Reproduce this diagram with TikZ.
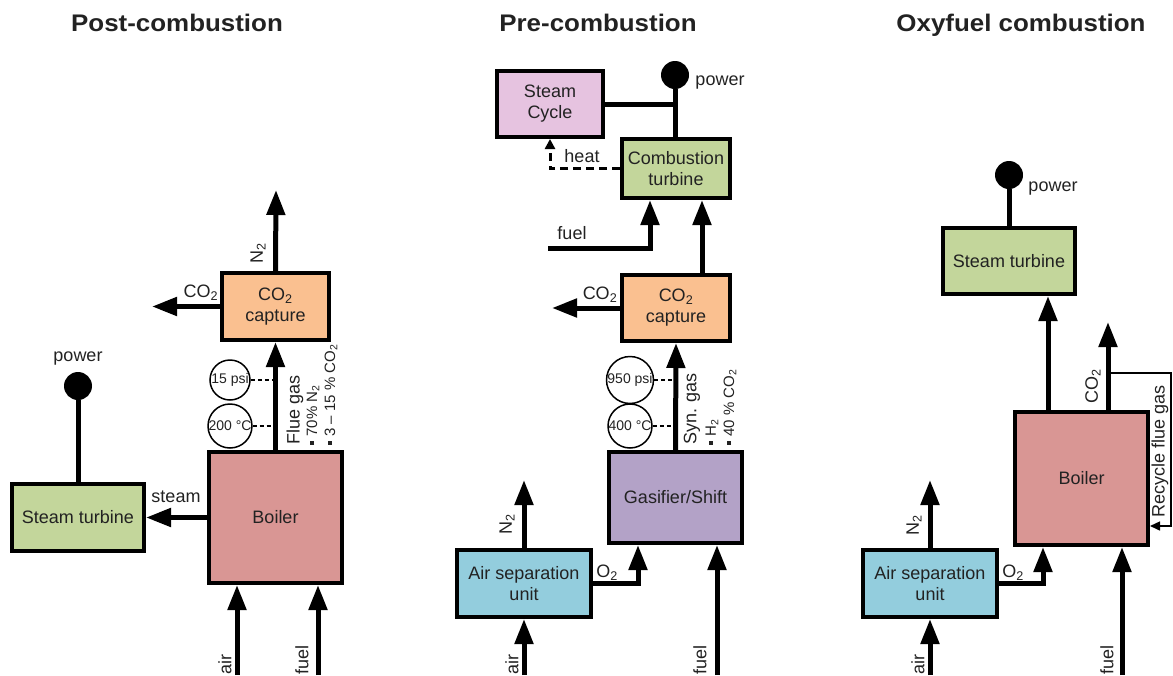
\documentclass[tikz,border=0pt]{standalone}
\usepackage{fontspec}
\setmainfont{Liberation Sans}
\usetikzlibrary{arrows.meta}
\definecolor{capc}{HTML}{FAC090}
\definecolor{boilc}{HTML}{D99694}
\definecolor{turbc}{HTML}{C3D69B}
\definecolor{cycc}{HTML}{E6C3E0}
\definecolor{gasc}{HTML}{B3A2C7}
\definecolor{asuc}{HTML}{93CDDD}
\definecolor{txt}{HTML}{222222}
\newcommand\bodyf{\fontsize{18}{21}\selectfont}
\newcommand\smallf{\fontsize{15}{17}\selectfont}
\newcommand\circf{\fontsize{14}{16}\selectfont}
\newcommand\titlef{\fontsize{24}{28}\selectfont\bfseries}
\newcommand\bul{\rule[0.2em]{4pt}{4pt}\ }
\newcommand\sub[1]{\textsubscript{#1}}
\begin{document}
\begin{tikzpicture}[x=1pt,y=-1pt,
  box/.style={draw=black, line width=4pt, text=txt, font=\bodyf, align=center, inner sep=0pt},
  flow/.style={line width=5pt, -{Triangle[length=25pt,width=18pt]}},
  link/.style={line width=5pt},
  lbl/.style={text=txt, font=\bodyf, inner sep=0pt},
  vlbl/.style={lbl, rotate=90, anchor=west},
  gauge/.style={draw, line width=1.5pt, circle, minimum size=40pt, inner sep=0pt, font=\circf, text=txt},
  probe/.style={line width=1.5pt, dash pattern=on 4pt off 3pt},
  dot/.style={circle, fill=black, minimum size=28pt, inner sep=0pt},
  ttl/.style={font=\titlef, text=txt, anchor=base, inner sep=0pt}]
\useasboundingbox (0,0) rectangle (1173,675);

% titles
\node[ttl] (t1) at (177,31) {\scalebox{1.08}[1]{Post-combustion}};
\node[ttl] (t2) at (598,31) {\scalebox{1.08}[1]{Pre-combustion}};
\node[ttl] (t3) at (1021,31) {\scalebox{1.08}[1]{Oxyfuel combustion}};

% ================= Post-combustion =================
\node[box, fill=capc, minimum width=107pt, minimum height=67pt] (cap1) at (275.5,306.5) {CO\sub{2}\\capture};
\node[box, fill=boilc, minimum width=133pt, minimum height=131pt] (boil1) at (275.5,517.5) {Boiler};
\node[box, fill=turbc, minimum width=132pt, minimum height=67pt] (st1) at (78,517.5) {Steam turbine};
\node[dot] (pw1) at (78,386) {};
\node[lbl] (pwl1) at (78,359) {power};

\coordinate (n2e1) at (276,190);
\coordinate (co2e1) at (152,306.5);
\coordinate (air1) at (237,675);
\coordinate (fuel1) at (318,675);

\draw[flow] (cap1.north) -- (n2e1);
\draw[flow] (cap1.west) -- (co2e1);
\draw[flow] (boil1.north) -- (cap1.south);
\draw[flow] (boil1.west) -- (st1.east);
\draw[link] (st1.north) -- (pw1);
\draw[flow] (air1) -- (air1 |- boil1.south);
\draw[flow] (fuel1) -- (fuel1 |- boil1.south);

\node[gauge] (g11) at (230,380) {15 psi};
\node[gauge] (g12) at (230,426) {200 °C};
\draw[probe] (g11.east) -- (274,380);
\draw[probe] (g12.east) -- (274,426);

\node[lbl, rotate=90] (n2l1) at (258,253) {N\sub{2}};
\node[lbl] (co2l1) at (201,293) {CO\sub{2}};
\node[lbl] (stml1) at (176,497) {steam};
\node[vlbl] (fg1) at (295,445) {Flue gas};
\node[vlbl, font=\smallf] (fg1a) at (313,445) {\bul 70\% N\sub{2}};
\node[vlbl, font=\smallf] (fg1b) at (331,445) {\bul 3 – 15 \% CO\sub{2}};
\node[vlbl] (airl1) at (225,675) {air};
\node[vlbl] (fuell1) at (302,675) {fuel};

% ================= Pre-combustion =================
\node[box, fill=cycc, minimum width=106pt, minimum height=66pt] (sc2) at (550,104) {Steam\\Cycle};
\node[box, fill=turbc, minimum width=108pt, minimum height=59pt] (ct2) at (676,168.5) {Combustion\\turbine};
\node[box, fill=capc, minimum width=108pt, minimum height=66pt] (cap2) at (676,308) {CO\sub{2}\\capture};
\node[box, fill=gasc, minimum width=133pt, minimum height=91pt] (gas2) at (675.5,497.5) {Gasifier/Shift};
\node[box, fill=asuc, minimum width=134pt, minimum height=67pt] (asu2) at (524,583.5) {Air separation\\unit};
\node[dot] (pw2) at (675,75) {};
\node[lbl] (pwl2) at (720,83) {power};

\draw[link] (pw2 |- ct2.north) -- (pw2);
\draw[link] (sc2.east) -- (sc2.east -| pw2);
\draw[line width=3pt, dash pattern=on 8pt off 5pt, -{Triangle[length=10pt,width=10pt]}] (ct2.west) -| (sc2.south);

\coordinate (f2) at (548,248);
\draw[flow] (f2) -| ([xshift=-26pt]ct2.south);
\draw[flow] ([xshift=26pt]cap2.north) -- ([xshift=26pt]ct2.south);
\coordinate (co2e2) at (552,308);
\draw[flow] (cap2.west) -- (co2e2);
\draw[flow] (gas2.north) -- (cap2.south);
\coordinate (n2e2) at (524,480);
\draw[flow] (asu2.north) -- (n2e2);
\draw[flow] (asu2.east) -| ([xshift=-37.5pt]gas2.south);
\coordinate (air2) at (524,675);
\draw[flow] (air2) -- (asu2.south);
\coordinate (fuel2) at (717,675);
\draw[flow] (fuel2) -- (fuel2 |- gas2.south);

\node[gauge] (g21) at (630,380) {950 psi};
\node[gauge] (g22) at (630,426) {400 °C};
\draw[probe] (g21.east) -- (674,380);
\draw[probe] (g22.east) -- (674,426);

\node[lbl] (heatl) at (582,156) {heat};
\node[lbl] (fuell2t) at (572,233) {fuel};
\node[lbl] (co2l2) at (600,295) {CO\sub{2}};
\node[vlbl] (sg2) at (692,445) {Syn. gas};
\node[vlbl, font=\smallf] (sg2a) at (712,445) {\bul H\sub{2}};
\node[vlbl, font=\smallf] (sg2b) at (730,445) {\bul 40 \% CO\sub{2}};
\node[lbl, rotate=90] (n2l2) at (507,524) {N\sub{2}};
\node[lbl] (o2l2) at (607,573) {O\sub{2}};
\node[vlbl] (airl2) at (512,675) {air};
\node[vlbl] (fuell2) at (700,675) {fuel};

% ================= Oxyfuel combustion =================
\node[box, fill=turbc, minimum width=132pt, minimum height=66pt] (st3) at (1009,261) {Steam turbine};
\node[box, fill=boilc, minimum width=133pt, minimum height=133pt] (boil3) at (1081.5,478.5) {Boiler};
\node[box, fill=asuc, minimum width=134pt, minimum height=67pt] (asu3) at (930,583.5) {Air separation\\unit};
\node[dot] (pw3) at (1009,175) {};
\node[lbl] (pwl3) at (1053,189) {power};

\draw[link] (st3.north) -- (pw3);
\draw[flow] ([xshift=-33.5pt]boil3.north) -- ([xshift=39pt]st3.south);
\coordinate (co2e3) at (1108,322);
\draw[flow] ([xshift=26.5pt]boil3.north) -- (co2e3);
\coordinate (r1) at (1108,373);
\coordinate (r2) at (1171,373);
\coordinate (r3) at (1171,526);
\draw[line width=1.5pt, -{Triangle[length=10pt,width=9pt]}] (r1) -- (r2) -- (r3) -- ([yshift=-47.5pt]boil3.east);
\coordinate (n2e3) at (930,480);
\draw[flow] (asu3.north) -- (n2e3);
\draw[flow] (asu3.east) -| ([xshift=-38.5pt]boil3.south);
\coordinate (air3) at (930,675);
\draw[flow] (air3) -- (asu3.south);
\coordinate (fuel3) at (1122,675);
\draw[flow] (fuel3) -- (fuel3 |- boil3.south);

\node[vlbl] (co2l3) at (1093,404) {CO\sub{2}};
\node[vlbl] (rfg3) at (1160,518) {Recycle flue gas};
\node[lbl, rotate=90] (n2l3) at (914,525) {N\sub{2}};
\node[lbl] (o2l3) at (1013,573) {O\sub{2}};
\node[vlbl] (airl3) at (918,675) {air};
\node[vlbl] (fuell3) at (1107,675) {fuel};
\end{tikzpicture}
\end{document}
